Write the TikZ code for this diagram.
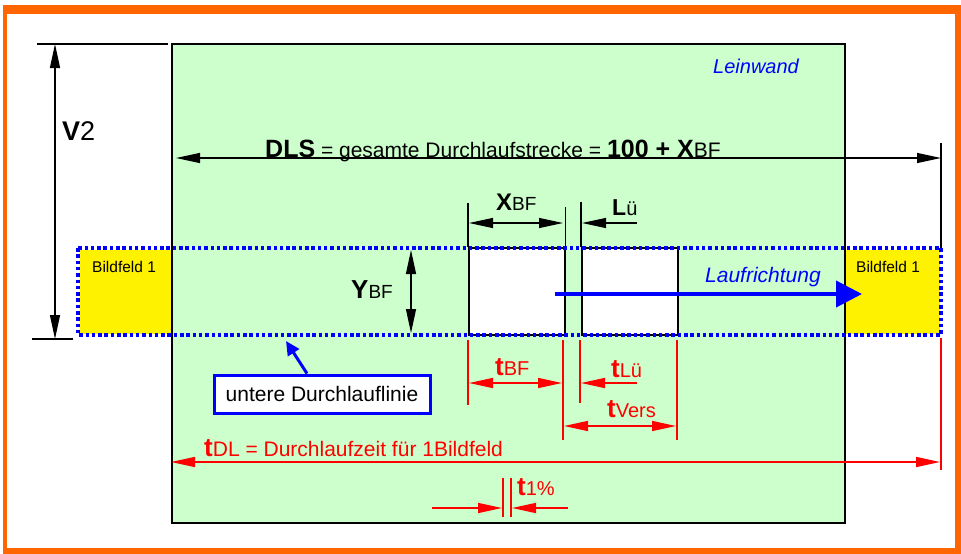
\documentclass[tikz,border=0pt]{standalone}
\usepackage{fontspec}
\setmainfont{Liberation Sans}
\usetikzlibrary{arrows.meta}
\definecolor{lgreen}{HTML}{CCFFCC}
\definecolor{orng}{HTML}{FF6600}
\definecolor{myred}{HTML}{FF0000}
\definecolor{myblue}{HTML}{0000FF}
\newcommand{\fsz}[1]{\fontsize{#1}{#1}\selectfont}
\tikzset{
  dtip/.tip={Triangle[length=24pt,width=10pt]},
  blk/.style={line width=1.2pt, draw=black},
  rd/.style={line width=1.5pt, draw=myred},
  lbl/.style={inner sep=0pt, anchor=base west},
  boxw/.style={draw=black, line width=1.5pt, fill=white, minimum width=96pt, minimum height=87pt, anchor=north west, inner sep=0pt},
}
\begin{document}
\begin{tikzpicture}[x=1pt,y=-1pt]
\useasboundingbox (0,0) rectangle (961,554);
% orange frame
\fill[orng] (3,5) rectangle (961,554);
\fill[white] (7,14) rectangle (955,548);
% canvas
\fill[lgreen] (172,44) rectangle (845,523);
\fill[yellow] (80,250) rectangle (172,334);
\fill[yellow] (845,250) rectangle (940,334);
\node[boxw] (b1) at (468,247) {};
\node[boxw] (b2) at (581,247) {};
\draw[black, line width=1.6pt] (172,44) rectangle (845,523);
% dotted band
\draw[myblue, line width=3.5pt, dash pattern=on 3.5pt off 2.8pt] (78,248) rectangle (941,335);
% V2
\coordinate (v2t) at (55,44); \coordinate (v2b) at (55,339);
\draw[blk] (37,44) -- (168,44);
\draw[blk] (32,339) -- (73,339);
\draw[blk, dtip-dtip] (v2t) -- (v2b);
\node[lbl] (v2) at (62,140) {\fsz{27}\textbf{V}2};
% Leinwand
\node[lbl, text=myblue] (lw) at (713,73) {\fsz{20}\itshape Leinwand};
% DLS
\coordinate (dl) at (176,158); \coordinate (dr) at (941,158);
\draw[blk] (941,143) -- (941,248);
\draw[blk, dtip-dtip] (dl) -- (dr);
\node[lbl] (dls) at (265,157) {\fsz{25}\textbf{DLS}\fsz{21} = gesamte Durchlaufstrecke = \fsz{25}\textbf{100 + X}\fsz{21}BF};
% XBF, Lue
\draw[blk] (b1.north west) -- ++(0,-44);
\draw[blk] (b1.north east) -- ++(0,-40);
\draw[blk] (b2.north west) -- ++(0,-45);
\coordinate (xa) at (469,223); \coordinate (xb) at (563,223);
\draw[blk, dtip-dtip] (xa) -- (xb);
\coordinate (la) at (637,223); \coordinate (lb) at (582,223);
\draw[blk, -dtip] (la) -- (lb);
\node[lbl] (xbf) at (496,210) {\fsz{24}\textbf{X}\fsz{19}BF};
\node[lbl] (lue) at (612,215) {\fsz{23}\textbf{L}\fsz{20}ü};
% Bildfeld
\node[lbl] (bf1) at (92,272) {\fsz{15.5}Bildfeld 1};
\node[lbl] (bf2) at (856,272) {\fsz{15.5}Bildfeld 1};
% YBF
\coordinate (ya) at (411,250); \coordinate (yb) at (411,333);
\draw[blk, dtip-dtip] (ya) -- (yb);
\node[lbl] (ybf) at (351,298) {\fsz{26}\textbf{Y}\fsz{19}BF};
% Laufrichtung
\coordinate (ra) at (555,294); \coordinate (rb) at (862,294);
\draw[myblue, line width=4pt, -{Triangle[length=26pt,width=26pt]}] (ra) -- (rb);
\node[lbl, text=myblue] (lr) at (705,282) {\fsz{21}\itshape Laufrichtung};
% untere Durchlauflinie
\node[draw=myblue, line width=3pt, fill=white, minimum width=216pt, minimum height=38pt, inner sep=0pt] (ud) at (322,394) {\fsz{21}untere Durchlauflinie};
\coordinate (udt) at (286,341);
\draw[myblue, line width=3pt, -{Triangle[length=14pt,width=13pt]}] ([xshift=-15pt]ud.north) -- (udt);
% red dimensions
\draw[rd] (468,340) -- (468,405);
\draw[rd] (563,340) -- (563,440);
\draw[rd] (580,340) -- (580,403);
\draw[rd] (677,340) -- (677,440);
\draw[rd] (941,338) -- (941,470);
\coordinate (ta) at (469,383); \coordinate (tb) at (562,383);
\draw[rd, fill=myred, dtip-dtip] (ta) -- (tb);
\coordinate (tla) at (637,383); \coordinate (tlb) at (581,383);
\draw[rd, fill=myred, -dtip] (tla) -- (tlb);
\coordinate (tva) at (564,426); \coordinate (tvb) at (676,426);
\draw[rd, fill=myred, dtip-dtip] (tva) -- (tvb);
\node[lbl, text=myred] (tbf) at (495,375) {\fsz{26}\textbf{t}\fsz{20}BF};
\node[lbl, text=myred] (tlu) at (611,377) {\fsz{26}\textbf{t}\fsz{20}Lü};
\node[lbl, text=myred] (tvers) at (607,417) {\fsz{26}\textbf{t}\fsz{20}Vers};
% tDL
\coordinate (tda) at (171,462); \coordinate (tdb) at (940,462);
\draw[rd, fill=myred, dtip-dtip] (tda) -- (tdb);
\node[lbl, text=myred] (tdl) at (204,456) {\fsz{26}\textbf{t}\fsz{21}DL = Durchlaufzeit für 1Bildfeld};
% t1%
\draw[rd] (503,478) -- (503,517);
\draw[rd] (511,478) -- (511,517);
\coordinate (pa) at (432,508); \coordinate (pb) at (502,508);
\coordinate (pc) at (568,508); \coordinate (pd) at (512,508);
\draw[rd, fill=myred, -dtip] (pa) -- (pb);
\draw[rd, fill=myred, -dtip] (pc) -- (pd);
\node[lbl, text=myred] (tp) at (517,495) {\fsz{26}\textbf{t}\fsz{20}1\%};
\end{tikzpicture}
\end{document}
